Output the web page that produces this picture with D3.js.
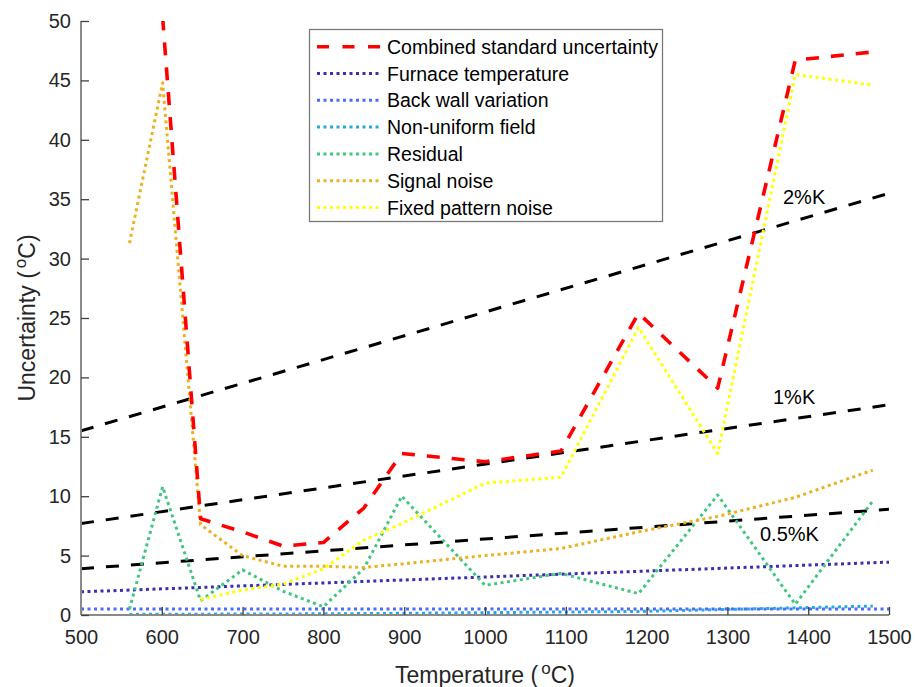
<!DOCTYPE html>
<html>
<head>
<meta charset="utf-8">
<script src="https://cdn.jsdelivr.net/npm/d3@7"></script>
<style>
  html, body { margin: 0; padding: 0; background: #fff; }
  svg { display: block; font-family: "Liberation Sans", Arial, sans-serif; }
</style>
</head>
<body>
<svg id="chart" width="915" height="687"></svg>
<script>
// Measurement temperatures (°C)
const temps = [560, 601, 648, 700, 750, 800, 850, 897, 1000, 1094, 1190, 1288, 1384, 1480];

// Uncertainty components (°C) at each measurement temperature
const combined     = [null, 50.3, 8.1, 7.0, 5.8, 6.1, 9.0, 13.6, 12.9, 13.8, 25.4, 19.1, 46.7, 47.4];
const fixedPattern = [null, null, 1.3, 2.1, 2.6, 3.9, 6.3, 7.7, 11.1, 11.6, 24.2, 13.6, 45.5, 44.6];
const signalNoise  = [31.3, 44.8, 7.6, 5.0, 4.1, 4.1, 4.0, 4.3, 5.0, 5.6, 7.0, 8.3, 9.9, 12.2];
const residual     = [0.5, 10.8, 1.2, 3.8, 2.0, 0.7, 3.9, 10.0, 2.5, 3.5, 1.8, 10.1, 0.9, 9.6];
const nonUniform   = [0.05, 0.06, 0.07, 0.08, 0.09, 0.10, 0.12, 0.14, 0.20, 0.25, 0.30, 0.45, 0.60, 0.75];

// Components spanning the full temperature range
const rangeTemps  = [500, 1500];
const furnaceTemp = [1.95, 4.45];
const backWall    = [0.5, 0.5];

// Reference lines as a percentage of absolute temperature
const pct2  = [15.5, 35.5];
const pct1  = [7.7, 17.7];
const pct05 = [3.9, 8.9];
const refLabels = ["2%K", "1%K", "0.5%K"];

// Axis ticks
const xTicks = [500, 600, 700, 800, 900, 1000, 1100, 1200, 1300, 1400, 1500];
const yTicks = [0, 5, 10, 15, 20, 25, 30, 35, 40, 45, 50];

const legendNames = ["Combined standard uncertainty", "Furnace temperature", "Back wall variation",
                     "Non-uniform field", "Residual", "Signal noise", "Fixed pattern noise"];

const svg = d3.select("#chart");
const plot = { left: 81, top: 21, width: 808, height: 594 };

const x = d3.scaleLinear().domain([500, 1500]).range([plot.left, plot.left + plot.width]);
const y = d3.scaleLinear().domain([0, 50]).range([plot.top + plot.height, plot.top]);

svg.append("defs").append("clipPath").attr("id", "plotClip")
  .append("rect").attr("x", plot.left).attr("y", plot.top)
  .attr("width", plot.width).attr("height", plot.height);

const dotted = "3,3.5";
const dashed = "13,12";

const styles = {
  combined:     { color: "#ff0000", width: 3.6, dash: dashed },
  furnace:      { color: "#3a2fae", width: 3,   dash: dotted },
  backWall:     { color: "#4d6bff", width: 3,   dash: dotted },
  nonUniform:   { color: "#25a9e0", width: 3,   dash: dotted },
  residual:     { color: "#3fc77f", width: 3,   dash: dotted },
  signalNoise:  { color: "#edb120", width: 3,   dash: dotted },
  fixedPattern: { color: "#ffff00", width: 3,   dash: dotted },
  ref:          { color: "#000000", width: 3,   dash: dashed }
};

const line = d3.line()
  .defined(d => d[1] !== null)
  .x(d => x(d[0]))
  .y(d => y(d[1]));

const layer = svg.append("g").attr("clip-path", "url(#plotClip)");

function drawSeries(xs, ys, st) {
  layer.append("path")
    .datum(xs.map((t, i) => [t, ys[i]]))
    .attr("d", line)
    .attr("fill", "none")
    .attr("stroke", st.color)
    .attr("stroke-width", st.width)
    .attr("stroke-dasharray", st.dash)
    .attr("stroke-linejoin", "round");
}

// Reference lines
[pct2, pct1, pct05].forEach(v => drawSeries(rangeTemps, v, styles.ref));

// Components, back to front
drawSeries(temps, nonUniform, styles.nonUniform);
drawSeries(rangeTemps, backWall, styles.backWall);
drawSeries(rangeTemps, furnaceTemp, styles.furnace);
drawSeries(temps, residual, styles.residual);
drawSeries(temps, signalNoise, styles.signalNoise);
drawSeries(temps, fixedPattern, styles.fixedPattern);
drawSeries(temps, combined, styles.combined);

// Reference line labels
const refLabelPos = [[783, 204], [773, 404], [760, 541]];
refLabels.forEach((t, i) => {
  svg.append("text")
    .attr("x", refLabelPos[i][0]).attr("y", refLabelPos[i][1])
    .attr("font-size", 20).attr("fill", "#000")
    .text(t);
});

// Axes
const xAxis = d3.axisBottom(x).tickValues(xTicks).tickSize(-8).tickPadding(15).tickFormat(d3.format("d"));
const yAxis = d3.axisLeft(y).tickValues(yTicks).tickSize(-8).tickPadding(10).tickFormat(d3.format("d"));

const gx = svg.append("g").attr("transform", `translate(0,${plot.top + plot.height})`).call(xAxis);
const gy = svg.append("g").attr("transform", `translate(${plot.left},0)`).call(yAxis);

[gx, gy].forEach(g => {
  g.select(".domain").attr("stroke", "#8a8a8a").attr("stroke-width", 2);
  g.selectAll(".tick line").attr("stroke", "#404040").attr("stroke-width", 1.3);
  g.selectAll(".tick text").attr("fill", "#262626").attr("font-size", 20)
    .attr("font-family", "'Liberation Sans', Arial, sans-serif");
});
gx.select(".domain").attr("d", `M${plot.left},0H${plot.left + plot.width}`);
gy.select(".domain").attr("d", `M0,${plot.top + plot.height}V${plot.top}`);

// Axis titles with superscript degree mark
function axisTitle(sel, main) {
  sel.attr("font-size", 23).attr("fill", "#262626").attr("text-anchor", "middle");
  sel.append("tspan").text(main + " (");
  sel.append("tspan").attr("font-size", 17).attr("dx", 3).attr("dy", -9).text("o");
  sel.append("tspan").attr("dy", 9).text("C)");
}
axisTitle(svg.append("text").attr("x", plot.left + plot.width / 2).attr("y", 683), "Temperature");
axisTitle(svg.append("text").attr("transform", `translate(35,${plot.top + plot.height / 2}) rotate(-90)`), "Uncertainty");

// Legend
const legend = svg.append("g");
legend.append("rect")
  .attr("x", 309.5).attr("y", 29.5).attr("width", 353).attr("height", 192)
  .attr("fill", "#fff").attr("stroke", "#7a7a7a").attr("stroke-width", 1.3);

const legendStyles = [styles.combined, styles.furnace, styles.backWall, styles.nonUniform,
                      styles.residual, styles.signalNoise, styles.fixedPattern];
legendNames.forEach((name, i) => {
  const cy = 46.7 + i * 26.8;
  const st = legendStyles[i];
  legend.append("line")
    .attr("x1", 317).attr("x2", 380).attr("y1", cy).attr("y2", cy)
    .attr("stroke", st.color).attr("stroke-width", st.width)
    .attr("stroke-dasharray", st.dash === dashed ? "12,13.5" : dotted);
  legend.append("text")
    .attr("x", 387).attr("y", cy + 7)
    .attr("font-size", 19.5).attr("fill", "#000")
    .text(name);
});
</script>
</body>
</html>
